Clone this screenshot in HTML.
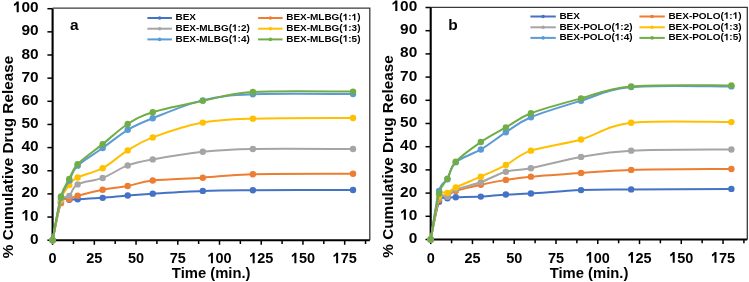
<!DOCTYPE html>
<html><head><meta charset="utf-8"><style>
html,body{margin:0;padding:0;background:#fff;width:749px;height:282px;overflow:hidden}
svg{display:block;filter:blur(0.3px)}
</style></head><body>
<svg width="749" height="282" viewBox="0 0 749 282">
<rect width="749" height="282" fill="#fff"/>
<path d="M52.60,8.20 H369.80 V240.20" fill="none" stroke="#3a3a3a" stroke-width="1.3"/>
<path d="M52.60,8.70 V240.20 H369.80" fill="none" stroke="#000" stroke-width="2.1"/>
<path d="M47.40,240.20 H52.60" stroke="#000" stroke-width="1.5"/>
<text transform="translate(30.04,243.70) scale(1.0,1)" style="font-family:'Liberation Sans',sans-serif;font-weight:bold;font-size:15.4px">0</text>
<path d="M47.40,217.05 H52.60" stroke="#000" stroke-width="1.5"/>
<path transform="translate(21.47,220.55) scale(0.00752,-0.00752)" d="M780,0 L499,0 L499,1056 Q420,982 345,936 Q250,876 137,843 L137,1097 Q247,1133 345,1210 Q440,1290 501,1409 L780,1409 Z" fill="#000"/>
<text transform="translate(30.04,220.55) scale(1.0,1)" style="font-family:'Liberation Sans',sans-serif;font-weight:bold;font-size:15.4px">0</text>
<path d="M47.40,193.90 H52.60" stroke="#000" stroke-width="1.5"/>
<text transform="translate(21.47,197.40) scale(1.0,1)" style="font-family:'Liberation Sans',sans-serif;font-weight:bold;font-size:15.4px">20</text>
<path d="M47.40,170.75 H52.60" stroke="#000" stroke-width="1.5"/>
<text transform="translate(21.47,174.25) scale(1.0,1)" style="font-family:'Liberation Sans',sans-serif;font-weight:bold;font-size:15.4px">30</text>
<path d="M47.40,147.60 H52.60" stroke="#000" stroke-width="1.5"/>
<text transform="translate(21.47,151.10) scale(1.0,1)" style="font-family:'Liberation Sans',sans-serif;font-weight:bold;font-size:15.4px">40</text>
<path d="M47.40,124.45 H52.60" stroke="#000" stroke-width="1.5"/>
<text transform="translate(21.47,127.95) scale(1.0,1)" style="font-family:'Liberation Sans',sans-serif;font-weight:bold;font-size:15.4px">50</text>
<path d="M47.40,101.30 H52.60" stroke="#000" stroke-width="1.5"/>
<text transform="translate(21.47,104.80) scale(1.0,1)" style="font-family:'Liberation Sans',sans-serif;font-weight:bold;font-size:15.4px">60</text>
<path d="M47.40,78.15 H52.60" stroke="#000" stroke-width="1.5"/>
<text transform="translate(21.47,81.65) scale(1.0,1)" style="font-family:'Liberation Sans',sans-serif;font-weight:bold;font-size:15.4px">70</text>
<path d="M47.40,55.00 H52.60" stroke="#000" stroke-width="1.5"/>
<text transform="translate(21.47,58.50) scale(1.0,1)" style="font-family:'Liberation Sans',sans-serif;font-weight:bold;font-size:15.4px">80</text>
<path d="M47.40,31.85 H52.60" stroke="#000" stroke-width="1.5"/>
<text transform="translate(21.47,35.35) scale(1.0,1)" style="font-family:'Liberation Sans',sans-serif;font-weight:bold;font-size:15.4px">90</text>
<path d="M47.40,8.70 H52.60" stroke="#000" stroke-width="1.5"/>
<path transform="translate(12.91,12.20) scale(0.00752,-0.00752)" d="M780,0 L499,0 L499,1056 Q420,982 345,936 Q250,876 137,843 L137,1097 Q247,1133 345,1210 Q440,1290 501,1409 L780,1409 Z" fill="#000"/>
<text transform="translate(21.47,12.20) scale(1.0,1)" style="font-family:'Liberation Sans',sans-serif;font-weight:bold;font-size:15.4px">00</text>
<path d="M52.60,240.20 V244.80" stroke="#000" stroke-width="1.5"/>
<text transform="translate(48.57,263.30) scale(0.94,1)" style="font-family:'Liberation Sans',sans-serif;font-weight:bold;font-size:15.4px">0</text>
<path d="M73.46,240.20 V244.00" stroke="#000" stroke-width="1.5"/>
<path d="M94.33,240.20 V244.80" stroke="#000" stroke-width="1.5"/>
<text transform="translate(86.27,263.30) scale(0.94,1)" style="font-family:'Liberation Sans',sans-serif;font-weight:bold;font-size:15.4px">25</text>
<path d="M115.19,240.20 V244.00" stroke="#000" stroke-width="1.5"/>
<path d="M136.05,240.20 V244.80" stroke="#000" stroke-width="1.5"/>
<text transform="translate(128.00,263.30) scale(0.94,1)" style="font-family:'Liberation Sans',sans-serif;font-weight:bold;font-size:15.4px">50</text>
<path d="M156.91,240.20 V244.00" stroke="#000" stroke-width="1.5"/>
<path d="M177.78,240.20 V244.80" stroke="#000" stroke-width="1.5"/>
<text transform="translate(169.72,263.30) scale(0.94,1)" style="font-family:'Liberation Sans',sans-serif;font-weight:bold;font-size:15.4px">75</text>
<path d="M198.64,240.20 V244.00" stroke="#000" stroke-width="1.5"/>
<path d="M219.50,240.20 V244.80" stroke="#000" stroke-width="1.5"/>
<path transform="translate(207.42,263.30) scale(0.00707,-0.00752)" d="M780,0 L499,0 L499,1056 Q420,982 345,936 Q250,876 137,843 L137,1097 Q247,1133 345,1210 Q440,1290 501,1409 L780,1409 Z" fill="#000"/>
<text transform="translate(215.47,263.30) scale(0.94,1)" style="font-family:'Liberation Sans',sans-serif;font-weight:bold;font-size:15.4px">00</text>
<path d="M240.36,240.20 V244.00" stroke="#000" stroke-width="1.5"/>
<path d="M261.23,240.20 V244.80" stroke="#000" stroke-width="1.5"/>
<path transform="translate(249.15,263.30) scale(0.00707,-0.00752)" d="M780,0 L499,0 L499,1056 Q420,982 345,936 Q250,876 137,843 L137,1097 Q247,1133 345,1210 Q440,1290 501,1409 L780,1409 Z" fill="#000"/>
<text transform="translate(257.20,263.30) scale(0.94,1)" style="font-family:'Liberation Sans',sans-serif;font-weight:bold;font-size:15.4px">25</text>
<path d="M282.09,240.20 V244.00" stroke="#000" stroke-width="1.5"/>
<path d="M302.95,240.20 V244.80" stroke="#000" stroke-width="1.5"/>
<path transform="translate(290.87,263.30) scale(0.00707,-0.00752)" d="M780,0 L499,0 L499,1056 Q420,982 345,936 Q250,876 137,843 L137,1097 Q247,1133 345,1210 Q440,1290 501,1409 L780,1409 Z" fill="#000"/>
<text transform="translate(298.92,263.30) scale(0.94,1)" style="font-family:'Liberation Sans',sans-serif;font-weight:bold;font-size:15.4px">50</text>
<path d="M323.81,240.20 V244.00" stroke="#000" stroke-width="1.5"/>
<path d="M344.68,240.20 V244.80" stroke="#000" stroke-width="1.5"/>
<path transform="translate(332.60,263.30) scale(0.00707,-0.00752)" d="M780,0 L499,0 L499,1056 Q420,982 345,936 Q250,876 137,843 L137,1097 Q247,1133 345,1210 Q440,1290 501,1409 L780,1409 Z" fill="#000"/>
<text transform="translate(340.65,263.30) scale(0.94,1)" style="font-family:'Liberation Sans',sans-serif;font-weight:bold;font-size:15.4px">75</text>
<path d="M365.54,240.20 V244.00" stroke="#000" stroke-width="1.5"/>
<path d="M52.60,240.20 C53.99,233.83 58.16,208.75 60.95,202.00 C63.73,195.25 66.51,200.15 69.29,199.69 C72.07,199.22 72.07,199.53 77.64,199.22 C83.20,198.92 94.33,198.45 102.67,197.84 C111.02,197.22 119.36,196.22 127.71,195.52 C136.05,194.83 140.22,194.44 152.74,193.67 C165.26,192.90 186.12,191.47 202.81,190.89 C219.50,190.31 227.84,190.35 252.88,190.20 C277.92,190.04 336.33,190.00 353.02,189.96" fill="none" stroke="#4472C4" stroke-width="2.0" stroke-linejoin="round" stroke-linecap="round"/>
<circle cx="52.60" cy="240.20" r="3.2" fill="#4472C4"/>
<circle cx="60.95" cy="202.00" r="3.2" fill="#4472C4"/>
<circle cx="69.29" cy="199.69" r="3.2" fill="#4472C4"/>
<circle cx="77.64" cy="199.22" r="3.2" fill="#4472C4"/>
<circle cx="102.67" cy="197.84" r="3.2" fill="#4472C4"/>
<circle cx="127.71" cy="195.52" r="3.2" fill="#4472C4"/>
<circle cx="152.74" cy="193.67" r="3.2" fill="#4472C4"/>
<circle cx="202.81" cy="190.89" r="3.2" fill="#4472C4"/>
<circle cx="252.88" cy="190.20" r="3.2" fill="#4472C4"/>
<circle cx="353.02" cy="189.96" r="3.2" fill="#4472C4"/>
<path d="M52.60,240.20 C53.99,234.03 58.16,209.99 60.95,203.16 C63.73,196.33 66.51,200.46 69.29,199.22 C72.07,197.99 72.07,197.33 77.64,195.75 C83.20,194.17 94.33,191.35 102.67,189.73 C111.02,188.11 119.36,187.57 127.71,186.03 C136.05,184.49 140.22,181.86 152.74,180.47 C165.26,179.08 186.12,178.74 202.81,177.69 C219.50,176.65 227.84,174.88 252.88,174.22 C277.92,173.57 336.33,173.84 353.02,173.76" fill="none" stroke="#ED7D31" stroke-width="2.0" stroke-linejoin="round" stroke-linecap="round"/>
<circle cx="52.60" cy="240.20" r="3.2" fill="#ED7D31"/>
<circle cx="60.95" cy="203.16" r="3.2" fill="#ED7D31"/>
<circle cx="69.29" cy="199.22" r="3.2" fill="#ED7D31"/>
<circle cx="77.64" cy="195.75" r="3.2" fill="#ED7D31"/>
<circle cx="102.67" cy="189.73" r="3.2" fill="#ED7D31"/>
<circle cx="127.71" cy="186.03" r="3.2" fill="#ED7D31"/>
<circle cx="152.74" cy="180.47" r="3.2" fill="#ED7D31"/>
<circle cx="202.81" cy="177.69" r="3.2" fill="#ED7D31"/>
<circle cx="252.88" cy="174.22" r="3.2" fill="#ED7D31"/>
<circle cx="353.02" cy="173.76" r="3.2" fill="#ED7D31"/>
<path d="M52.60,240.20 C53.99,233.72 58.16,208.68 60.95,201.31 C63.73,193.94 66.51,198.80 69.29,195.98 C72.07,193.17 72.07,187.42 77.64,184.41 C83.20,181.40 94.33,181.09 102.67,177.93 C111.02,174.76 119.36,168.51 127.71,165.43 C136.05,162.34 140.22,161.68 152.74,159.41 C165.26,157.13 186.12,153.50 202.81,151.77 C219.50,150.03 227.84,149.45 252.88,148.99 C277.92,148.53 336.33,148.99 353.02,148.99" fill="none" stroke="#A5A5A5" stroke-width="2.0" stroke-linejoin="round" stroke-linecap="round"/>
<circle cx="52.60" cy="240.20" r="3.2" fill="#A5A5A5"/>
<circle cx="60.95" cy="201.31" r="3.2" fill="#A5A5A5"/>
<circle cx="69.29" cy="195.98" r="3.2" fill="#A5A5A5"/>
<circle cx="77.64" cy="184.41" r="3.2" fill="#A5A5A5"/>
<circle cx="102.67" cy="177.93" r="3.2" fill="#A5A5A5"/>
<circle cx="127.71" cy="165.43" r="3.2" fill="#A5A5A5"/>
<circle cx="152.74" cy="159.41" r="3.2" fill="#A5A5A5"/>
<circle cx="202.81" cy="151.77" r="3.2" fill="#A5A5A5"/>
<circle cx="252.88" cy="148.99" r="3.2" fill="#A5A5A5"/>
<circle cx="353.02" cy="148.99" r="3.2" fill="#A5A5A5"/>
<path d="M52.60,240.20 C53.99,233.45 58.16,208.87 60.95,199.69 C63.73,190.50 66.51,188.81 69.29,185.10 C72.07,181.40 72.07,180.28 77.64,177.46 C83.20,174.65 94.33,172.72 102.67,168.20 C111.02,163.69 119.36,155.51 127.71,150.38 C136.05,145.25 140.22,142.04 152.74,137.41 C165.26,132.78 186.12,125.72 202.81,122.60 C219.50,119.47 227.84,119.43 252.88,118.66 C277.92,117.89 336.33,118.08 353.02,117.97" fill="none" stroke="#FFC000" stroke-width="2.0" stroke-linejoin="round" stroke-linecap="round"/>
<circle cx="52.60" cy="240.20" r="3.2" fill="#FFC000"/>
<circle cx="60.95" cy="199.69" r="3.2" fill="#FFC000"/>
<circle cx="69.29" cy="185.10" r="3.2" fill="#FFC000"/>
<circle cx="77.64" cy="177.46" r="3.2" fill="#FFC000"/>
<circle cx="102.67" cy="168.20" r="3.2" fill="#FFC000"/>
<circle cx="127.71" cy="150.38" r="3.2" fill="#FFC000"/>
<circle cx="152.74" cy="137.41" r="3.2" fill="#FFC000"/>
<circle cx="202.81" cy="122.60" r="3.2" fill="#FFC000"/>
<circle cx="252.88" cy="118.66" r="3.2" fill="#FFC000"/>
<circle cx="353.02" cy="117.97" r="3.2" fill="#FFC000"/>
<path d="M52.60,240.20 C53.99,233.14 58.16,207.79 60.95,197.84 C63.73,187.88 66.51,185.84 69.29,180.47 C72.07,175.11 72.07,171.06 77.64,165.66 C83.20,160.26 94.33,154.04 102.67,148.06 C111.02,142.08 119.36,134.75 127.71,129.77 C136.05,124.80 140.22,123.10 152.74,118.20 C165.26,113.30 186.12,104.35 202.81,100.37 C219.50,96.40 227.84,95.40 252.88,94.35 C277.92,93.31 336.33,94.16 353.02,94.12" fill="none" stroke="#5B9BD5" stroke-width="2.0" stroke-linejoin="round" stroke-linecap="round"/>
<circle cx="52.60" cy="240.20" r="3.2" fill="#5B9BD5"/>
<circle cx="60.95" cy="197.84" r="3.2" fill="#5B9BD5"/>
<circle cx="69.29" cy="180.47" r="3.2" fill="#5B9BD5"/>
<circle cx="77.64" cy="165.66" r="3.2" fill="#5B9BD5"/>
<circle cx="102.67" cy="148.06" r="3.2" fill="#5B9BD5"/>
<circle cx="127.71" cy="129.77" r="3.2" fill="#5B9BD5"/>
<circle cx="152.74" cy="118.20" r="3.2" fill="#5B9BD5"/>
<circle cx="202.81" cy="100.37" r="3.2" fill="#5B9BD5"/>
<circle cx="252.88" cy="94.35" r="3.2" fill="#5B9BD5"/>
<circle cx="353.02" cy="94.12" r="3.2" fill="#5B9BD5"/>
<path d="M52.60,240.20 C53.99,232.91 58.16,206.67 60.95,196.45 C63.73,186.22 66.51,184.22 69.29,178.85 C72.07,173.49 72.07,170.06 77.64,164.27 C83.20,158.48 94.33,150.84 102.67,144.13 C111.02,137.41 119.36,129.31 127.71,123.99 C136.05,118.66 140.22,116.04 152.74,112.18 C165.26,108.32 186.12,104.19 202.81,100.84 C219.50,97.48 227.84,93.58 252.88,92.04 C277.92,90.50 336.33,91.65 353.02,91.58" fill="none" stroke="#70AD47" stroke-width="2.0" stroke-linejoin="round" stroke-linecap="round"/>
<circle cx="52.60" cy="240.20" r="3.2" fill="#70AD47"/>
<circle cx="60.95" cy="196.45" r="3.2" fill="#70AD47"/>
<circle cx="69.29" cy="178.85" r="3.2" fill="#70AD47"/>
<circle cx="77.64" cy="164.27" r="3.2" fill="#70AD47"/>
<circle cx="102.67" cy="144.13" r="3.2" fill="#70AD47"/>
<circle cx="127.71" cy="123.99" r="3.2" fill="#70AD47"/>
<circle cx="152.74" cy="112.18" r="3.2" fill="#70AD47"/>
<circle cx="202.81" cy="100.84" r="3.2" fill="#70AD47"/>
<circle cx="252.88" cy="92.04" r="3.2" fill="#70AD47"/>
<circle cx="353.02" cy="91.58" r="3.2" fill="#70AD47"/>
<text x="211.20" y="277.90" text-anchor="middle" style="font-family:'Liberation Sans',sans-serif;font-weight:bold;font-size:14.8px">Time (min.)</text>
<text transform="translate(12.60,157.00) rotate(-90)" text-anchor="middle" style="font-family:'Liberation Sans',sans-serif;font-weight:bold;font-size:15.3px">% Cumulative Drug Release</text>
<text x="70.00" y="30.00" style="font-family:'Liberation Sans',sans-serif;font-weight:bold;font-size:15.5px">a</text>
<path d="M147.40,18.00 H171.90" stroke="#4472C4" stroke-width="2.0"/>
<circle cx="159.65" cy="18.00" r="1.8" fill="#4472C4"/>
<text transform="translate(175.50,20.30) scale(1.05,1)" style="font-family:'Liberation Sans',sans-serif;font-weight:bold;font-size:9.5px;fill:#000">BEX</text>
<path d="M258.10,18.00 H282.60" stroke="#ED7D31" stroke-width="2.0"/>
<circle cx="270.35" cy="18.00" r="1.8" fill="#ED7D31"/>
<text transform="translate(286.20,20.30) scale(1.05,1)" style="font-family:'Liberation Sans',sans-serif;font-weight:bold;font-size:9.5px;fill:#000">BEX-MLBG(</text>
<path transform="translate(342.72,20.30) scale(0.00487,-0.00464)" d="M780,0 L499,0 L499,1056 Q420,982 345,936 Q250,876 137,843 L137,1097 Q247,1133 345,1210 Q440,1290 501,1409 L780,1409 Z" fill="#000"/>
<text transform="translate(348.27,20.30) scale(1.05,1)" style="font-family:'Liberation Sans',sans-serif;font-weight:bold;font-size:9.5px;fill:#000">:</text>
<path transform="translate(351.59,20.30) scale(0.00487,-0.00464)" d="M780,0 L499,0 L499,1056 Q420,982 345,936 Q250,876 137,843 L137,1097 Q247,1133 345,1210 Q440,1290 501,1409 L780,1409 Z" fill="#000"/>
<text transform="translate(357.14,20.30) scale(1.05,1)" style="font-family:'Liberation Sans',sans-serif;font-weight:bold;font-size:9.5px;fill:#000">)</text>
<path d="M147.40,28.70 H171.90" stroke="#A5A5A5" stroke-width="2.0"/>
<circle cx="159.65" cy="28.70" r="1.8" fill="#A5A5A5"/>
<text transform="translate(175.50,31.00) scale(1.05,1)" style="font-family:'Liberation Sans',sans-serif;font-weight:bold;font-size:9.5px;fill:#000">BEX-MLBG(</text>
<path transform="translate(232.02,31.00) scale(0.00487,-0.00464)" d="M780,0 L499,0 L499,1056 Q420,982 345,936 Q250,876 137,843 L137,1097 Q247,1133 345,1210 Q440,1290 501,1409 L780,1409 Z" fill="#000"/>
<text transform="translate(237.57,31.00) scale(1.05,1)" style="font-family:'Liberation Sans',sans-serif;font-weight:bold;font-size:9.5px;fill:#000">:2)</text>
<path d="M258.10,28.70 H282.60" stroke="#FFC000" stroke-width="2.0"/>
<circle cx="270.35" cy="28.70" r="1.8" fill="#FFC000"/>
<text transform="translate(286.20,31.00) scale(1.05,1)" style="font-family:'Liberation Sans',sans-serif;font-weight:bold;font-size:9.5px;fill:#000">BEX-MLBG(</text>
<path transform="translate(342.72,31.00) scale(0.00487,-0.00464)" d="M780,0 L499,0 L499,1056 Q420,982 345,936 Q250,876 137,843 L137,1097 Q247,1133 345,1210 Q440,1290 501,1409 L780,1409 Z" fill="#000"/>
<text transform="translate(348.27,31.00) scale(1.05,1)" style="font-family:'Liberation Sans',sans-serif;font-weight:bold;font-size:9.5px;fill:#000">:3)</text>
<path d="M147.40,39.40 H171.90" stroke="#5B9BD5" stroke-width="2.0"/>
<circle cx="159.65" cy="39.40" r="1.8" fill="#5B9BD5"/>
<text transform="translate(175.50,41.70) scale(1.05,1)" style="font-family:'Liberation Sans',sans-serif;font-weight:bold;font-size:9.5px;fill:#000">BEX-MLBG(</text>
<path transform="translate(232.02,41.70) scale(0.00487,-0.00464)" d="M780,0 L499,0 L499,1056 Q420,982 345,936 Q250,876 137,843 L137,1097 Q247,1133 345,1210 Q440,1290 501,1409 L780,1409 Z" fill="#000"/>
<text transform="translate(237.57,41.70) scale(1.05,1)" style="font-family:'Liberation Sans',sans-serif;font-weight:bold;font-size:9.5px;fill:#000">:4)</text>
<path d="M258.10,39.40 H282.60" stroke="#70AD47" stroke-width="2.0"/>
<circle cx="270.35" cy="39.40" r="1.8" fill="#70AD47"/>
<text transform="translate(286.20,41.70) scale(1.05,1)" style="font-family:'Liberation Sans',sans-serif;font-weight:bold;font-size:9.5px;fill:#000">BEX-MLBG(</text>
<path transform="translate(342.72,41.70) scale(0.00487,-0.00464)" d="M780,0 L499,0 L499,1056 Q420,982 345,936 Q250,876 137,843 L137,1097 Q247,1133 345,1210 Q440,1290 501,1409 L780,1409 Z" fill="#000"/>
<text transform="translate(348.27,41.70) scale(1.05,1)" style="font-family:'Liberation Sans',sans-serif;font-weight:bold;font-size:9.5px;fill:#000">:5)</text>
<path d="M430.70,7.30 H747.30 V239.50" fill="none" stroke="#3a3a3a" stroke-width="1.3"/>
<path d="M430.70,7.50 V239.50 H747.30" fill="none" stroke="#000" stroke-width="2.1"/>
<path d="M425.50,239.50 H430.70" stroke="#000" stroke-width="1.5"/>
<text transform="translate(408.64,243.00) scale(1.0,1)" style="font-family:'Liberation Sans',sans-serif;font-weight:bold;font-size:15.4px">0</text>
<path d="M425.50,216.30 H430.70" stroke="#000" stroke-width="1.5"/>
<path transform="translate(400.07,219.80) scale(0.00752,-0.00752)" d="M780,0 L499,0 L499,1056 Q420,982 345,936 Q250,876 137,843 L137,1097 Q247,1133 345,1210 Q440,1290 501,1409 L780,1409 Z" fill="#000"/>
<text transform="translate(408.64,219.80) scale(1.0,1)" style="font-family:'Liberation Sans',sans-serif;font-weight:bold;font-size:15.4px">0</text>
<path d="M425.50,193.10 H430.70" stroke="#000" stroke-width="1.5"/>
<text transform="translate(400.07,196.60) scale(1.0,1)" style="font-family:'Liberation Sans',sans-serif;font-weight:bold;font-size:15.4px">20</text>
<path d="M425.50,169.90 H430.70" stroke="#000" stroke-width="1.5"/>
<text transform="translate(400.07,173.40) scale(1.0,1)" style="font-family:'Liberation Sans',sans-serif;font-weight:bold;font-size:15.4px">30</text>
<path d="M425.50,146.70 H430.70" stroke="#000" stroke-width="1.5"/>
<text transform="translate(400.07,150.20) scale(1.0,1)" style="font-family:'Liberation Sans',sans-serif;font-weight:bold;font-size:15.4px">40</text>
<path d="M425.50,123.50 H430.70" stroke="#000" stroke-width="1.5"/>
<text transform="translate(400.07,127.00) scale(1.0,1)" style="font-family:'Liberation Sans',sans-serif;font-weight:bold;font-size:15.4px">50</text>
<path d="M425.50,100.30 H430.70" stroke="#000" stroke-width="1.5"/>
<text transform="translate(400.07,103.80) scale(1.0,1)" style="font-family:'Liberation Sans',sans-serif;font-weight:bold;font-size:15.4px">60</text>
<path d="M425.50,77.10 H430.70" stroke="#000" stroke-width="1.5"/>
<text transform="translate(400.07,80.60) scale(1.0,1)" style="font-family:'Liberation Sans',sans-serif;font-weight:bold;font-size:15.4px">70</text>
<path d="M425.50,53.90 H430.70" stroke="#000" stroke-width="1.5"/>
<text transform="translate(400.07,57.40) scale(1.0,1)" style="font-family:'Liberation Sans',sans-serif;font-weight:bold;font-size:15.4px">80</text>
<path d="M425.50,30.70 H430.70" stroke="#000" stroke-width="1.5"/>
<text transform="translate(400.07,34.20) scale(1.0,1)" style="font-family:'Liberation Sans',sans-serif;font-weight:bold;font-size:15.4px">90</text>
<path d="M425.50,7.50 H430.70" stroke="#000" stroke-width="1.5"/>
<path transform="translate(391.51,11.00) scale(0.00752,-0.00752)" d="M780,0 L499,0 L499,1056 Q420,982 345,936 Q250,876 137,843 L137,1097 Q247,1133 345,1210 Q440,1290 501,1409 L780,1409 Z" fill="#000"/>
<text transform="translate(400.07,11.00) scale(1.0,1)" style="font-family:'Liberation Sans',sans-serif;font-weight:bold;font-size:15.4px">00</text>
<path d="M430.70,239.50 V244.10" stroke="#000" stroke-width="1.5"/>
<text transform="translate(426.67,262.70) scale(0.94,1)" style="font-family:'Liberation Sans',sans-serif;font-weight:bold;font-size:15.4px">0</text>
<path d="M451.58,239.50 V243.30" stroke="#000" stroke-width="1.5"/>
<path d="M472.46,239.50 V244.10" stroke="#000" stroke-width="1.5"/>
<text transform="translate(464.41,262.70) scale(0.94,1)" style="font-family:'Liberation Sans',sans-serif;font-weight:bold;font-size:15.4px">25</text>
<path d="M493.34,239.50 V243.30" stroke="#000" stroke-width="1.5"/>
<path d="M514.23,239.50 V244.10" stroke="#000" stroke-width="1.5"/>
<text transform="translate(506.17,262.70) scale(0.94,1)" style="font-family:'Liberation Sans',sans-serif;font-weight:bold;font-size:15.4px">50</text>
<path d="M535.11,239.50 V243.30" stroke="#000" stroke-width="1.5"/>
<path d="M555.99,239.50 V244.10" stroke="#000" stroke-width="1.5"/>
<text transform="translate(547.94,262.70) scale(0.94,1)" style="font-family:'Liberation Sans',sans-serif;font-weight:bold;font-size:15.4px">75</text>
<path d="M576.87,239.50 V243.30" stroke="#000" stroke-width="1.5"/>
<path d="M597.75,239.50 V244.10" stroke="#000" stroke-width="1.5"/>
<path transform="translate(585.67,262.70) scale(0.00707,-0.00752)" d="M780,0 L499,0 L499,1056 Q420,982 345,936 Q250,876 137,843 L137,1097 Q247,1133 345,1210 Q440,1290 501,1409 L780,1409 Z" fill="#000"/>
<text transform="translate(593.72,262.70) scale(0.94,1)" style="font-family:'Liberation Sans',sans-serif;font-weight:bold;font-size:15.4px">00</text>
<path d="M618.63,239.50 V243.30" stroke="#000" stroke-width="1.5"/>
<path d="M639.51,239.50 V244.10" stroke="#000" stroke-width="1.5"/>
<path transform="translate(627.44,262.70) scale(0.00707,-0.00752)" d="M780,0 L499,0 L499,1056 Q420,982 345,936 Q250,876 137,843 L137,1097 Q247,1133 345,1210 Q440,1290 501,1409 L780,1409 Z" fill="#000"/>
<text transform="translate(635.49,262.70) scale(0.94,1)" style="font-family:'Liberation Sans',sans-serif;font-weight:bold;font-size:15.4px">25</text>
<path d="M660.39,239.50 V243.30" stroke="#000" stroke-width="1.5"/>
<path d="M681.27,239.50 V244.10" stroke="#000" stroke-width="1.5"/>
<path transform="translate(669.20,262.70) scale(0.00707,-0.00752)" d="M780,0 L499,0 L499,1056 Q420,982 345,936 Q250,876 137,843 L137,1097 Q247,1133 345,1210 Q440,1290 501,1409 L780,1409 Z" fill="#000"/>
<text transform="translate(677.25,262.70) scale(0.94,1)" style="font-family:'Liberation Sans',sans-serif;font-weight:bold;font-size:15.4px">50</text>
<path d="M702.16,239.50 V243.30" stroke="#000" stroke-width="1.5"/>
<path d="M723.04,239.50 V244.10" stroke="#000" stroke-width="1.5"/>
<path transform="translate(710.96,262.70) scale(0.00707,-0.00752)" d="M780,0 L499,0 L499,1056 Q420,982 345,936 Q250,876 137,843 L137,1097 Q247,1133 345,1210 Q440,1290 501,1409 L780,1409 Z" fill="#000"/>
<text transform="translate(719.01,262.70) scale(0.94,1)" style="font-family:'Liberation Sans',sans-serif;font-weight:bold;font-size:15.4px">75</text>
<path d="M743.92,239.50 V243.30" stroke="#000" stroke-width="1.5"/>
<path d="M430.70,239.50 C432.09,233.20 436.27,208.57 439.05,201.68 C441.84,194.80 444.62,198.94 447.40,198.20 C450.19,197.47 450.19,197.55 455.76,197.28 C461.33,197.01 472.46,197.04 480.81,196.58 C489.17,196.12 497.52,194.99 505.87,194.49 C514.23,193.99 518.40,194.30 530.93,193.56 C543.46,192.83 564.34,190.78 581.04,190.08 C597.75,189.39 606.10,189.58 631.16,189.39 C656.22,189.19 714.68,189.00 731.39,188.92" fill="none" stroke="#4472C4" stroke-width="2.0" stroke-linejoin="round" stroke-linecap="round"/>
<circle cx="430.70" cy="239.50" r="3.2" fill="#4472C4"/>
<circle cx="439.05" cy="201.68" r="3.2" fill="#4472C4"/>
<circle cx="447.40" cy="198.20" r="3.2" fill="#4472C4"/>
<circle cx="455.76" cy="197.28" r="3.2" fill="#4472C4"/>
<circle cx="480.81" cy="196.58" r="3.2" fill="#4472C4"/>
<circle cx="505.87" cy="194.49" r="3.2" fill="#4472C4"/>
<circle cx="530.93" cy="193.56" r="3.2" fill="#4472C4"/>
<circle cx="581.04" cy="190.08" r="3.2" fill="#4472C4"/>
<circle cx="631.16" cy="189.39" r="3.2" fill="#4472C4"/>
<circle cx="731.39" cy="188.92" r="3.2" fill="#4472C4"/>
<path d="M430.70,239.50 C432.09,232.93 436.27,207.33 439.05,200.06 C441.84,192.79 444.62,197.39 447.40,195.88 C450.19,194.38 450.19,192.87 455.76,191.01 C461.33,189.16 472.46,186.60 480.81,184.75 C489.17,182.89 497.52,181.23 505.87,179.88 C514.23,178.52 518.40,177.79 530.93,176.63 C543.46,175.47 564.34,174.04 581.04,172.92 C597.75,171.79 606.10,170.56 631.16,169.90 C656.22,169.24 714.68,169.13 731.39,168.97" fill="none" stroke="#ED7D31" stroke-width="2.0" stroke-linejoin="round" stroke-linecap="round"/>
<circle cx="430.70" cy="239.50" r="3.2" fill="#ED7D31"/>
<circle cx="439.05" cy="200.06" r="3.2" fill="#ED7D31"/>
<circle cx="447.40" cy="195.88" r="3.2" fill="#ED7D31"/>
<circle cx="455.76" cy="191.01" r="3.2" fill="#ED7D31"/>
<circle cx="480.81" cy="184.75" r="3.2" fill="#ED7D31"/>
<circle cx="505.87" cy="179.88" r="3.2" fill="#ED7D31"/>
<circle cx="530.93" cy="176.63" r="3.2" fill="#ED7D31"/>
<circle cx="581.04" cy="172.92" r="3.2" fill="#ED7D31"/>
<circle cx="631.16" cy="169.90" r="3.2" fill="#ED7D31"/>
<circle cx="731.39" cy="168.97" r="3.2" fill="#ED7D31"/>
<path d="M430.70,239.50 C432.09,232.62 436.27,205.32 439.05,198.20 C441.84,191.09 444.62,198.24 447.40,196.81 C450.19,195.38 450.19,192.06 455.76,189.62 C461.33,187.18 472.46,185.17 480.81,182.20 C489.17,179.22 497.52,174.08 505.87,171.76 C514.23,169.44 518.40,170.75 530.93,168.28 C543.46,165.80 564.34,159.85 581.04,156.91 C597.75,153.97 606.10,151.88 631.16,150.64 C656.22,149.41 714.68,149.68 731.39,149.48" fill="none" stroke="#A5A5A5" stroke-width="2.0" stroke-linejoin="round" stroke-linecap="round"/>
<circle cx="430.70" cy="239.50" r="3.2" fill="#A5A5A5"/>
<circle cx="439.05" cy="198.20" r="3.2" fill="#A5A5A5"/>
<circle cx="447.40" cy="196.81" r="3.2" fill="#A5A5A5"/>
<circle cx="455.76" cy="189.62" r="3.2" fill="#A5A5A5"/>
<circle cx="480.81" cy="182.20" r="3.2" fill="#A5A5A5"/>
<circle cx="505.87" cy="171.76" r="3.2" fill="#A5A5A5"/>
<circle cx="530.93" cy="168.28" r="3.2" fill="#A5A5A5"/>
<circle cx="581.04" cy="156.91" r="3.2" fill="#A5A5A5"/>
<circle cx="631.16" cy="150.64" r="3.2" fill="#A5A5A5"/>
<circle cx="731.39" cy="149.48" r="3.2" fill="#A5A5A5"/>
<path d="M430.70,239.50 C432.09,232.31 436.27,204.12 439.05,196.35 C441.84,188.58 444.62,194.34 447.40,192.87 C450.19,191.40 450.19,190.24 455.76,187.53 C461.33,184.83 472.46,180.38 480.81,176.63 C489.17,172.88 497.52,169.36 505.87,165.03 C514.23,160.70 518.40,154.90 530.93,150.64 C543.46,146.39 564.34,144.15 581.04,139.51 C597.75,134.87 606.10,125.70 631.16,122.80 C656.22,119.90 714.68,122.22 731.39,122.11" fill="none" stroke="#FFC000" stroke-width="2.0" stroke-linejoin="round" stroke-linecap="round"/>
<circle cx="430.70" cy="239.50" r="3.2" fill="#FFC000"/>
<circle cx="439.05" cy="196.35" r="3.2" fill="#FFC000"/>
<circle cx="447.40" cy="192.87" r="3.2" fill="#FFC000"/>
<circle cx="455.76" cy="187.53" r="3.2" fill="#FFC000"/>
<circle cx="480.81" cy="176.63" r="3.2" fill="#FFC000"/>
<circle cx="505.87" cy="165.03" r="3.2" fill="#FFC000"/>
<circle cx="530.93" cy="150.64" r="3.2" fill="#FFC000"/>
<circle cx="581.04" cy="139.51" r="3.2" fill="#FFC000"/>
<circle cx="631.16" cy="122.80" r="3.2" fill="#FFC000"/>
<circle cx="731.39" cy="122.11" r="3.2" fill="#FFC000"/>
<path d="M430.70,239.50 C432.09,231.42 436.27,201.07 439.05,191.01 C441.84,180.96 444.62,183.97 447.40,179.18 C450.19,174.39 450.19,167.19 455.76,162.24 C461.33,157.29 472.46,154.47 480.81,149.48 C489.17,144.50 497.52,137.69 505.87,132.32 C514.23,126.94 518.40,122.49 530.93,117.24 C543.46,111.98 564.34,105.79 581.04,100.76 C597.75,95.74 606.10,89.47 631.16,87.08 C656.22,84.68 714.68,86.50 731.39,86.38" fill="none" stroke="#5B9BD5" stroke-width="2.0" stroke-linejoin="round" stroke-linecap="round"/>
<circle cx="430.70" cy="239.50" r="3.2" fill="#5B9BD5"/>
<circle cx="439.05" cy="191.01" r="3.2" fill="#5B9BD5"/>
<circle cx="447.40" cy="179.18" r="3.2" fill="#5B9BD5"/>
<circle cx="455.76" cy="162.24" r="3.2" fill="#5B9BD5"/>
<circle cx="480.81" cy="149.48" r="3.2" fill="#5B9BD5"/>
<circle cx="505.87" cy="132.32" r="3.2" fill="#5B9BD5"/>
<circle cx="530.93" cy="117.24" r="3.2" fill="#5B9BD5"/>
<circle cx="581.04" cy="100.76" r="3.2" fill="#5B9BD5"/>
<circle cx="631.16" cy="87.08" r="3.2" fill="#5B9BD5"/>
<circle cx="731.39" cy="86.38" r="3.2" fill="#5B9BD5"/>
<path d="M430.70,239.50 C432.09,231.84 436.27,203.69 439.05,193.56 C441.84,183.43 444.62,184.01 447.40,178.72 C450.19,173.42 450.19,167.89 455.76,161.78 C461.33,155.67 472.46,147.78 480.81,142.06 C489.17,136.34 497.52,132.24 505.87,127.44 C514.23,122.65 518.40,118.13 530.93,113.29 C543.46,108.46 564.34,102.93 581.04,98.44 C597.75,93.96 606.10,88.55 631.16,86.38 C656.22,84.21 714.68,85.61 731.39,85.45" fill="none" stroke="#70AD47" stroke-width="2.0" stroke-linejoin="round" stroke-linecap="round"/>
<circle cx="430.70" cy="239.50" r="3.2" fill="#70AD47"/>
<circle cx="439.05" cy="193.56" r="3.2" fill="#70AD47"/>
<circle cx="447.40" cy="178.72" r="3.2" fill="#70AD47"/>
<circle cx="455.76" cy="161.78" r="3.2" fill="#70AD47"/>
<circle cx="480.81" cy="142.06" r="3.2" fill="#70AD47"/>
<circle cx="505.87" cy="127.44" r="3.2" fill="#70AD47"/>
<circle cx="530.93" cy="113.29" r="3.2" fill="#70AD47"/>
<circle cx="581.04" cy="98.44" r="3.2" fill="#70AD47"/>
<circle cx="631.16" cy="86.38" r="3.2" fill="#70AD47"/>
<circle cx="731.39" cy="85.45" r="3.2" fill="#70AD47"/>
<text x="589.00" y="277.90" text-anchor="middle" style="font-family:'Liberation Sans',sans-serif;font-weight:bold;font-size:14.8px">Time (min.)</text>
<text transform="translate(392.60,156.50) rotate(-90)" text-anchor="middle" style="font-family:'Liberation Sans',sans-serif;font-weight:bold;font-size:15.3px">% Cumulative Drug Release</text>
<text x="448.30" y="29.50" style="font-family:'Liberation Sans',sans-serif;font-weight:bold;font-size:15.5px">b</text>
<path d="M530.40,16.50 H555.80" stroke="#4472C4" stroke-width="2.0"/>
<circle cx="543.10" cy="16.50" r="1.8" fill="#4472C4"/>
<text transform="translate(559.40,18.80) scale(1.05,1)" style="font-family:'Liberation Sans',sans-serif;font-weight:bold;font-size:9.5px;fill:#000">BEX</text>
<path d="M639.40,16.50 H664.80" stroke="#ED7D31" stroke-width="2.0"/>
<circle cx="652.10" cy="16.50" r="1.8" fill="#ED7D31"/>
<text transform="translate(668.40,18.80) scale(1.05,1)" style="font-family:'Liberation Sans',sans-serif;font-weight:bold;font-size:9.5px;fill:#000">BEX-POLO(</text>
<path transform="translate(723.82,18.80) scale(0.00487,-0.00464)" d="M780,0 L499,0 L499,1056 Q420,982 345,936 Q250,876 137,843 L137,1097 Q247,1133 345,1210 Q440,1290 501,1409 L780,1409 Z" fill="#000"/>
<text transform="translate(729.37,18.80) scale(1.05,1)" style="font-family:'Liberation Sans',sans-serif;font-weight:bold;font-size:9.5px;fill:#000">:</text>
<path transform="translate(732.69,18.80) scale(0.00487,-0.00464)" d="M780,0 L499,0 L499,1056 Q420,982 345,936 Q250,876 137,843 L137,1097 Q247,1133 345,1210 Q440,1290 501,1409 L780,1409 Z" fill="#000"/>
<text transform="translate(738.23,18.80) scale(1.05,1)" style="font-family:'Liberation Sans',sans-serif;font-weight:bold;font-size:9.5px;fill:#000">)</text>
<path d="M530.40,27.30 H555.80" stroke="#A5A5A5" stroke-width="2.0"/>
<circle cx="543.10" cy="27.30" r="1.8" fill="#A5A5A5"/>
<text transform="translate(559.40,29.60) scale(1.05,1)" style="font-family:'Liberation Sans',sans-serif;font-weight:bold;font-size:9.5px;fill:#000">BEX-POLO(</text>
<path transform="translate(614.82,29.60) scale(0.00487,-0.00464)" d="M780,0 L499,0 L499,1056 Q420,982 345,936 Q250,876 137,843 L137,1097 Q247,1133 345,1210 Q440,1290 501,1409 L780,1409 Z" fill="#000"/>
<text transform="translate(620.37,29.60) scale(1.05,1)" style="font-family:'Liberation Sans',sans-serif;font-weight:bold;font-size:9.5px;fill:#000">:2)</text>
<path d="M639.40,27.30 H664.80" stroke="#FFC000" stroke-width="2.0"/>
<circle cx="652.10" cy="27.30" r="1.8" fill="#FFC000"/>
<text transform="translate(668.40,29.60) scale(1.05,1)" style="font-family:'Liberation Sans',sans-serif;font-weight:bold;font-size:9.5px;fill:#000">BEX-POLO(</text>
<path transform="translate(723.82,29.60) scale(0.00487,-0.00464)" d="M780,0 L499,0 L499,1056 Q420,982 345,936 Q250,876 137,843 L137,1097 Q247,1133 345,1210 Q440,1290 501,1409 L780,1409 Z" fill="#000"/>
<text transform="translate(729.37,29.60) scale(1.05,1)" style="font-family:'Liberation Sans',sans-serif;font-weight:bold;font-size:9.5px;fill:#000">:3)</text>
<path d="M530.40,37.90 H555.80" stroke="#5B9BD5" stroke-width="2.0"/>
<circle cx="543.10" cy="37.90" r="1.8" fill="#5B9BD5"/>
<text transform="translate(559.40,40.20) scale(1.05,1)" style="font-family:'Liberation Sans',sans-serif;font-weight:bold;font-size:9.5px;fill:#000">BEX-POLO(</text>
<path transform="translate(614.82,40.20) scale(0.00487,-0.00464)" d="M780,0 L499,0 L499,1056 Q420,982 345,936 Q250,876 137,843 L137,1097 Q247,1133 345,1210 Q440,1290 501,1409 L780,1409 Z" fill="#000"/>
<text transform="translate(620.37,40.20) scale(1.05,1)" style="font-family:'Liberation Sans',sans-serif;font-weight:bold;font-size:9.5px;fill:#000">:4)</text>
<path d="M639.40,37.90 H664.80" stroke="#70AD47" stroke-width="2.0"/>
<circle cx="652.10" cy="37.90" r="1.8" fill="#70AD47"/>
<text transform="translate(668.40,40.20) scale(1.05,1)" style="font-family:'Liberation Sans',sans-serif;font-weight:bold;font-size:9.5px;fill:#000">BEX-POLO(</text>
<path transform="translate(723.82,40.20) scale(0.00487,-0.00464)" d="M780,0 L499,0 L499,1056 Q420,982 345,936 Q250,876 137,843 L137,1097 Q247,1133 345,1210 Q440,1290 501,1409 L780,1409 Z" fill="#000"/>
<text transform="translate(729.37,40.20) scale(1.05,1)" style="font-family:'Liberation Sans',sans-serif;font-weight:bold;font-size:9.5px;fill:#000">:5)</text>
</svg>
</body></html>
